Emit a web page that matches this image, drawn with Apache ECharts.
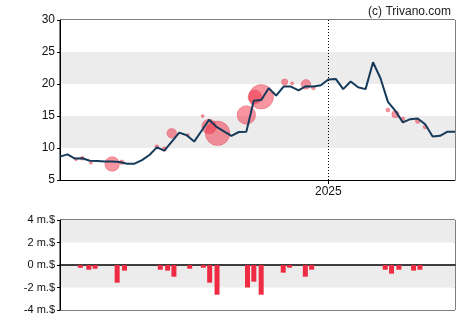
<!DOCTYPE html>
<html>
<head>
<meta charset="utf-8">
<script src="https://cdn.jsdelivr.net/npm/echarts@6/dist/echarts.min.js"></script>
<style>
  html, body { margin: 0; padding: 0; background: #fff; }
  #chart { width: 470px; height: 325px; }
</style>
</head>
<body>
<div id="chart"></div>
<script>
// Weekly closing prices, first week starting 2024-04-24
const firstWeek = '2024-04-24';
const lastWeek = '2025-04-30';
const closePrices = [
  8.65, 9.0, 8.35, 8.4, 8.0, 7.95, 7.9, 7.9, 7.8, 7.55,
  7.55, 8.1, 8.9, 10.1, 9.6, 11.0, 12.4, 12.0, 11.0, 12.7,
  14.4, 13.3, 12.6, 11.9, 12.5, 12.55, 17.4, 17.5, 19.35, 18.2,
  19.6, 19.6, 19.0, 19.65, 19.6, 19.8, 20.7, 20.8, 19.2, 20.4,
  19.5, 19.2, 23.4, 20.9, 17.2, 15.8, 14.0, 14.5, 14.6, 13.7,
  11.8, 11.9, 12.55, 12.55
];

// Individual insider sales: date, price, amount (m.$)
const tradeDates = [
  '2024-05-09', '2024-05-15', '2024-05-23', '2024-06-12', '2024-06-21',
  '2024-07-24', '2024-07-31', '2024-08-07', '2024-08-22', '2024-09-05',
  '2024-09-11', '2024-09-19', '2024-10-16', '2024-10-24', '2024-10-30',
  '2024-11-21', '2024-11-28', '2024-12-11', '2024-12-18', '2025-02-26',
  '2025-03-05', '2025-03-12', '2025-03-26', '2025-04-02'
];
const tradePrices = [
  8.23, 8.39, 7.7, 7.5, 7.77,
  10.2, 9.84, 12.3, 12.03, 15.0,
  13.36, 12.3, 15.16, 17.97, 18.0,
  20.3, 20.1, 19.95, 19.4, 15.94,
  15.27, 14.53, 14.2, 13.3
];
const tradeAmounts = [
  0.25, 0.42, 0.33, 1.57, 0.5,
  0.42, 0.5, 1.04, 0.33, 0.24,
  1.57, 2.64, 2.0, 1.48, 2.64,
  0.68, 0.24, 1.04, 0.42, 0.42,
  0.77, 0.42, 0.5, 0.42
];

// Net insider flow per week (m.$)
const flowDates = [
  '2024-05-11', '2024-05-19', '2024-05-25', '2024-06-15', '2024-06-22',
  '2024-07-26', '2024-08-02', '2024-08-08', '2024-08-23', '2024-09-05',
  '2024-09-11', '2024-09-18', '2024-10-17', '2024-10-23', '2024-10-30',
  '2024-11-20', '2024-11-26', '2024-12-11', '2024-12-17', '2025-02-25',
  '2025-03-03', '2025-03-10', '2025-03-24', '2025-03-30'
];
const flowValues = [
  -0.25, -0.42, -0.33, -1.57, -0.5,
  -0.42, -0.5, -1.04, -0.33, -0.24,
  -1.57, -2.64, -2.0, -1.48, -2.64,
  -0.68, -0.24, -1.04, -0.42, -0.42,
  -0.77, -0.42, -0.5, -0.42
];

const yearMark = '2025-01-01';
const yearLabel = '2025';

const DAY = 86400000;
const t = s => Date.parse(s);
const t0 = t(firstWeek);
const priceData = closePrices.map((v, i) => [t0 + i * 7 * DAY, v]);
const tradeData = tradeDates.map((d, i) => [t(d), tradePrices[i], tradeAmounts[i]]);
const flowData = flowDates.map((d, i) => [t(d), flowValues[i]]);

const FONT = 'Liberation Sans, Arial, sans-serif';
const BAND = ['#ffffff', '#ececec'];

const chart = echarts.init(document.getElementById('chart'), null, { renderer: 'canvas' });
chart.setOption({
  animation: false,
  backgroundColor: '#fff',
  title: {
    text: '(c) Trivano.com',
    right: 14, top: 1,
    textStyle: { fontFamily: FONT, fontSize: 12, fontWeight: 'normal', color: '#222' }
  },
  grid: [
    { left: 60, right: 15, top: 20, height: 160, show: true, borderColor: '#000', borderWidth: 1, backgroundColor: 'transparent' },
    { left: 60, right: 15, top: 220, height: 90, show: true, borderColor: '#000', borderWidth: 1, backgroundColor: 'transparent' }
  ],
  xAxis: [
    {
      type: 'time', gridIndex: 0, min: t(firstWeek), max: t(lastWeek),
      axisLine: { show: true, lineStyle: { color: '#000', width: 1 } },
      axisTick: { show: false },
      axisLabel: { show: false },
      splitLine: { show: false }
    },
    {
      type: 'time', gridIndex: 1, min: t(firstWeek), max: t(lastWeek),
      axisLine: { show: true, onZero: true, lineStyle: { color: '#000', width: 1.5 } },
      axisTick: { show: false },
      axisLabel: { show: false },
      splitLine: { show: false }
    }
  ],
  yAxis: [
    {
      type: 'value', gridIndex: 0, min: 5, max: 30, interval: 5,
      axisLine: { show: true, lineStyle: { color: '#000' } },
      axisTick: { show: true, length: 3, lineStyle: { color: '#000' } },
      axisLabel: { margin: 5, fontFamily: FONT, fontSize: 12, color: '#111' },
      splitLine: { show: false },
      splitArea: { show: true, areaStyle: { color: BAND } }
    },
    {
      type: 'value', gridIndex: 1, min: -4, max: 4, interval: 2,
      axisLine: { show: true, lineStyle: { color: '#000' } },
      axisTick: { show: true, length: 3, lineStyle: { color: '#000' } },
      axisLabel: { margin: 5, fontFamily: FONT, fontSize: 11, color: '#111', formatter: v => v + ' m.$' },
      splitLine: { show: false },
      splitArea: { show: true, areaStyle: { color: BAND } }
    }
  ],
  series: [
    {
      name: 'trades', type: 'scatter', xAxisIndex: 0, yAxisIndex: 0, z: 2,
      data: tradeData,
      symbol: 'circle',
      symbolSize: d => Math.max(3, 9.3 * d[2]),
      itemStyle: { color: 'rgba(238,40,62,0.62)', borderColor: 'rgba(220,25,50,0.6)', borderWidth: 0.6 }
    },
    {
      name: 'price', type: 'line', xAxisIndex: 0, yAxisIndex: 0, z: 3,
      data: priceData, showSymbol: false, symbol: 'none',
      lineStyle: { color: '#163a59', width: 2 },
      markLine: {
        silent: true, symbol: 'none',
        label: { show: false },
        lineStyle: { color: '#000', type: [1, 2], width: 1 },
        data: [{ xAxis: t(yearMark) }]
      }
    },
    {
      name: 'flow', type: 'bar', xAxisIndex: 1, yAxisIndex: 1,
      data: flowData, barWidth: 5,
      itemStyle: { color: '#ef2b44' }
    }
  ]
});

// Year tick and label under the price panel, placed through the axis scale
const base = chart.convertToPixel({ xAxisIndex: 0, yAxisIndex: 0 }, [t(yearMark), 5]);
const bx = Math.round(base[0]) + 0.5;
chart.setOption({
  graphic: [
    { type: 'line', shape: { x1: bx, y1: base[1], x2: bx, y2: base[1] + 4 }, style: { stroke: '#000', lineWidth: 1 }, silent: true },
    { type: 'text', x: base[0], y: base[1] + 6, style: { text: yearLabel, font: '12px ' + FONT, fill: '#111', align: 'center', verticalAlign: 'top' }, silent: true }
  ]
});
</script>
</body>
</html>
